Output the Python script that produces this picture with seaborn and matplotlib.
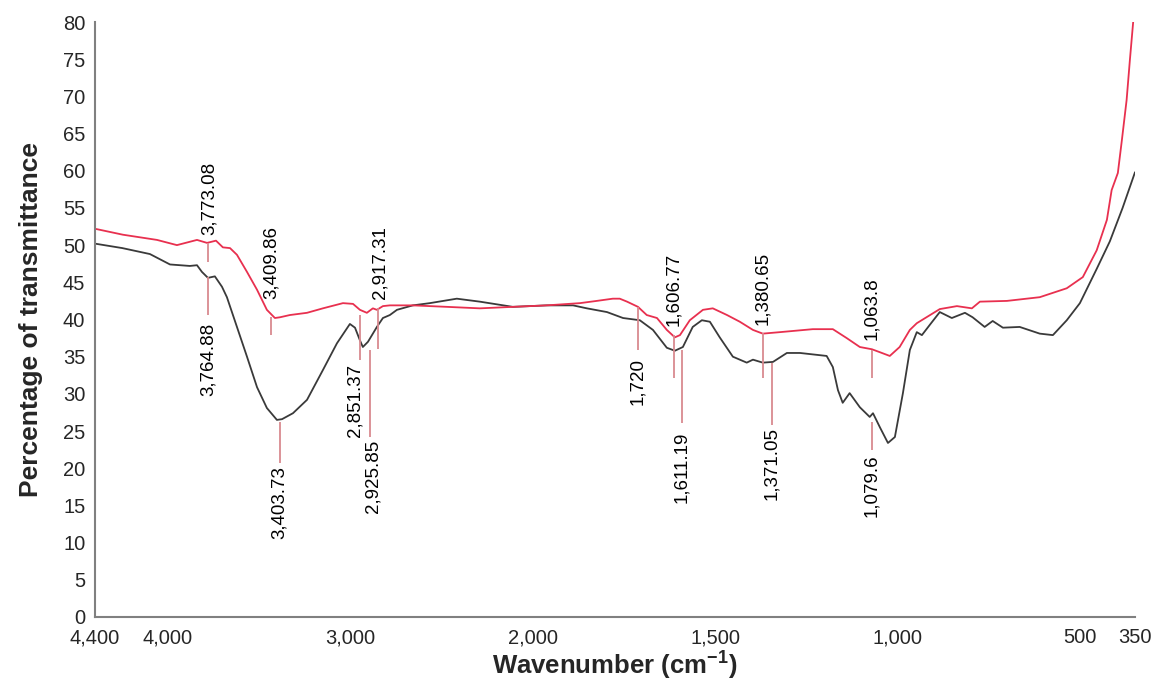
import numpy as np
import pandas as pd
import matplotlib
matplotlib.use("Agg")
import matplotlib.pyplot as plt
import seaborn as sns

# Spectrum traces (wavenumber in cm-1, % transmittance)
black_wn = [4400, 4250, 4099, 3989, 3880, 3841, 3814, 3781, 3743, 3704, 3677, 3622, 3567,
            3512, 3458, 3403, 3375, 3315, 3238, 3151, 3074, 3003, 2975, 2948, 2932,
            2904, 2855, 2822, 2784, 2745, 2658, 2565, 2417, 2291, 2110, 1962, 1890,
            1852, 1797, 1753, 1707, 1671, 1633, 1611, 1589, 1562, 1537, 1515, 1488,
            1452, 1414, 1397, 1370, 1342, 1304, 1268, 1195, 1178, 1164, 1151, 1132,
            1104, 1077, 1068, 1049, 1027, 1008, 986, 967, 948, 934, 912, 885, 852,
            816, 795, 762, 740, 712, 666, 611, 575, 537, 501, 455, 419, 384, 350]
black_t = [50.2, 49.6, 48.8, 47.4, 47.2, 47.3, 46.4, 45.6, 45.8, 44.4, 43.0, 39.0, 35.0,
           30.9, 28.1, 26.5, 26.6, 27.4, 29.2, 33.2, 36.8, 39.4, 38.9, 37.2, 36.3,
           37.0, 39.0, 40.2, 40.6, 41.3, 41.9, 42.2, 42.8, 42.4, 41.7, 41.9, 41.9,
           41.5, 41.0, 40.2, 39.9, 38.6, 36.2, 35.8, 36.3, 39.0, 39.9, 39.7, 37.6,
           35.0, 34.2, 34.6, 34.2, 34.3, 35.5, 35.5, 35.1, 33.6, 30.5, 28.8, 30.1,
           28.2, 26.9, 27.4, 25.5, 23.4, 24.2, 30.1, 35.9, 38.3, 37.9, 39.3, 41.0,
           40.2, 40.9, 40.3, 39.0, 39.8, 38.9, 39.0, 38.1, 37.9, 39.9, 42.2, 46.8,
           50.5, 55.0, 59.8]

red_wn = [4400, 4247, 4060, 3951, 3841, 3786, 3737, 3699, 3660, 3622, 3567, 3512,
          3458, 3414, 3386, 3332, 3238, 3151, 3041, 2986, 2948, 2910, 2877, 2855,
          2822, 2784, 2658, 2471, 2291, 2110, 1962, 1871, 1825, 1781, 1762, 1742,
          1712, 1688, 1660, 1633, 1611, 1597, 1570, 1534, 1507, 1468, 1433, 1397,
          1370, 1323, 1233, 1178, 1140, 1104, 1071, 1049, 1022, 995, 967, 948, 885,
          838, 797, 775, 701, 611, 537, 493, 455, 427, 414, 397, 386, 373, 364, 355]
red_t = [52.2, 51.4, 50.7, 50.0, 50.7, 50.3, 50.6, 49.7, 49.6, 48.7, 46.4, 44.0,
         41.3, 40.2, 40.3, 40.6, 40.9, 41.5, 42.2, 42.1, 41.3, 40.9, 41.5, 41.3,
         41.8, 41.9, 41.9, 41.7, 41.5, 41.7, 41.9, 42.2, 42.5, 42.8, 42.8, 42.4,
         41.7, 40.6, 40.2, 38.6, 37.6, 37.9, 39.9, 41.3, 41.5, 40.6, 39.7, 38.6,
         38.1, 38.3, 38.7, 38.7, 37.5, 36.3, 36.0, 35.6, 35.1, 36.3, 38.6, 39.5,
         41.4, 41.8, 41.5, 42.4, 42.5, 43.0, 44.2, 45.7, 49.3, 53.4, 57.4, 59.7,
         64.1, 69.5, 74.9, 80.0]

# Peak annotations: label, marker position, marker span, label anchor, side
peak_labels = ["3,773.08", "3,764.88", "3,409.86", "3,403.73", "2,917.31", "2,851.37",
               "2,925.85", "1,720", "1,606.77", "1,611.19", "1,380.65", "1,371.05",
               "1,063.8", "1,079.6"]
peak_pos = [3781, 3781, 3436, 3386, 2849, 2948, 2893, 1712, 1614, 1592, 1370, 1345,
            1071, 1071]
peak_text_x = [3775, 3781, 3436, 3390, 2840, 2975, 2877, 1712, 1614, 1592, 1370, 1345,
               1071, 1071]
peak_lo = [47.7, 40.6, 37.9, 20.7, 36.0, 34.6, 24.2, 35.9, 32.1, 26.1, 32.1, 25.8,
           32.1, 22.5]
peak_hi = [50.3, 45.7, 40.3, 26.2, 41.5, 40.6, 35.9, 41.7, 37.9, 35.9, 38.2, 34.2,
           35.9, 26.2]
peak_text_y = [51.4, 39.6, 42.8, 20.3, 42.8, 34.0, 23.8, 34.8, 39.1, 24.9, 39.3, 25.5,
               37.3, 21.8]
peak_side = ["up", "down", "up", "down", "up", "down", "down", "down", "up", "down",
             "up", "down", "up", "down"]

x_ticks = [4400, 4000, 3000, 2000, 1500, 1000, 500, 350]
y_ticks = list(range(0, 81, 5))

sns.set_style("white")
plt.rcParams["font.family"] = ["Liberation Sans", "DejaVu Sans"]
plt.rcParams["mathtext.fontset"] = "custom"
plt.rcParams["mathtext.rm"] = "Liberation Sans"
plt.rcParams["mathtext.bf"] = "Liberation Sans:bold"

black_df = pd.DataFrame({"wn": black_wn, "T": black_t})
red_df = pd.DataFrame({"wn": red_wn, "T": red_t})

fig = plt.figure(figsize=(11.51, 6.85), dpi=100)
ax = fig.add_axes([95 / 1151, 68 / 685, 1040 / 1151, 595 / 685])

# scale doubles below 2000 cm-1, as usual for FTIR plots
def fwd(x):
    x = np.asarray(x, dtype=float)
    return np.where(x >= 2000, x, 2 * x - 2000)

def inv(t):
    t = np.asarray(t, dtype=float)
    return np.where(t >= 2000, t, (t + 2000) / 2)

ax.set_xscale("function", functions=(fwd, inv))

sns.lineplot(data=black_df, x="wn", y="T", color="#3a3a3a", lw=1.3, ax=ax,
             estimator=None, sort=False)
sns.lineplot(data=red_df, x="wn", y="T", color="#e8304f", lw=1.3, ax=ax,
             estimator=None, sort=False)

ax.vlines(peak_pos, peak_lo, peak_hi, color="#d98a90", lw=1.3)
for lab, xp, ty, side in zip(peak_labels, peak_text_x, peak_text_y, peak_side):
    ax.text(xp, ty, lab, rotation=90, ha="center",
            va="bottom" if side == "up" else "top", fontsize=13.5, color="black")

ax.set_xlim(4400, 350)
ax.set_ylim(0, 80)
ax.set_xticks(x_ticks)
ax.set_xticklabels([f"{v:,}" for v in x_ticks])
ax.set_yticks(y_ticks)
ax.tick_params(axis="both", direction="out", length=5, width=1.2, color="#808080",
               labelsize=14.5, pad=2)
ax.tick_params(axis="x", pad=3)
for side in ["top", "right"]:
    ax.spines[side].set_visible(False)
for side in ["left", "bottom"]:
    ax.spines[side].set_color("#808080")
    ax.spines[side].set_linewidth(1.5)

ax.set_xlabel(r"Wavenumber (cm$^{\mathbf{-1}}$)", fontsize=18.5, fontweight="bold",
              labelpad=1)
ax.set_ylabel("Percentage of transmittance", fontsize=19, fontweight="bold",
              labelpad=14)

fig.savefig("out.png", dpi=100)
